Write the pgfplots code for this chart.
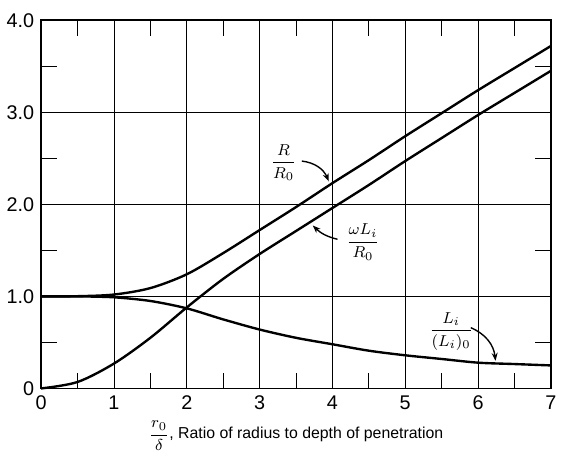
\documentclass[border=0pt]{standalone}
\usepackage{amsmath}
\usepackage{fontspec}
\setmainfont{Liberation Sans}
\usepackage{pgfplots}
\pgfplotsset{compat=1.18}
\usetikzlibrary{arrows.meta}

\begin{document}
\begin{tikzpicture}
\begin{axis}[
    width=257.5pt, height=186pt,
    scale only axis=true,
    xmin=0, xmax=7, ymin=0, ymax=4,
    xtick={0,1,...,7},
    ytick={0,1,2,3,4},
    yticklabels={0,1.0,2.0,3.0,4.0},
    minor xtick={0.5,1.5,...,6.5},
    minor ytick={0.5,1.5,2.5,3.5},
    major tick length=0pt,
    minor tick length=8pt,
    tick align=inside,
    tick style={black, line width=0.5pt},
    grid=major,
    major grid style={black, line width=0.4pt},
    axis line style={line width=0.8pt},
    tick label style={font=\fontsize{10}{12}\selectfont},
    /pgf/number format/assume math mode=true,
    xlabel={$\dfrac{r_0}{\delta}$, Ratio of radius to depth of penetration},
    xlabel style={font=\fontsize{8}{10}\selectfont, yshift=1pt},
    clip=false,
]
% R/R0
\addplot[black, line width=1.2pt, smooth] coordinates {
  (0,1) (0.5,1.002) (1,1.02) (1.5,1.09) (2,1.24) (2.5,1.47)
  (3,1.72) (3.5,1.97) (4,2.23) (4.5,2.48) (5,2.74) (5.5,2.99)
  (6,3.24) (6.5,3.48) (7,3.72)
};
% omega Li / R0
\addplot[black, line width=1.2pt, smooth] coordinates {
  (0,0) (0.5,0.07) (1,0.27) (1.5,0.55) (2,0.88) (2.5,1.19)
  (3,1.46) (3.5,1.71) (4,1.96) (4.5,2.21) (5,2.47) (5.5,2.72)
  (6,2.97) (6.5,3.21) (7,3.45)
};
% Li / (Li)0
\addplot[black, line width=1.2pt, smooth] coordinates {
  (0,1) (0.5,1) (1,0.99) (1.5,0.95) (2,0.87) (2.5,0.75)
  (3,0.64) (3.5,0.55) (4,0.48) (4.5,0.41) (5,0.36) (5.5,0.32)
  (6,0.28) (6.5,0.265) (7,0.25)
};

\node[font=\fontsize{8}{9}\selectfont] at (axis cs:3.33,2.45) {$\dfrac{R}{R_0}$};
\draw[-{Stealth[length=4pt]}, line width=0.7pt] (axis cs:3.58,2.47) to[bend left=30] (axis cs:3.95,2.25);

\node[font=\fontsize{8}{9}\selectfont] at (axis cs:4.42,1.59) {$\dfrac{\omega L_i}{R_0}$};
\draw[-{Stealth[length=4pt]}, line width=0.7pt] (axis cs:4.07,1.62) to[bend left=15] (axis cs:3.73,1.77);

\node[font=\fontsize{8}{9}\selectfont] at (axis cs:5.63,0.62) {$\dfrac{L_i}{(L_i)_0}$};
\draw[-{Stealth[length=4pt]}, line width=0.7pt] (axis cs:5.90,0.66) to[bend left=30] (axis cs:6.24,0.30);

\node[anchor=south, inner sep=0pt] at (rel axis cs:0,1) {\rule{0pt}{10pt}};
\end{axis}
\end{tikzpicture}
\end{document}
